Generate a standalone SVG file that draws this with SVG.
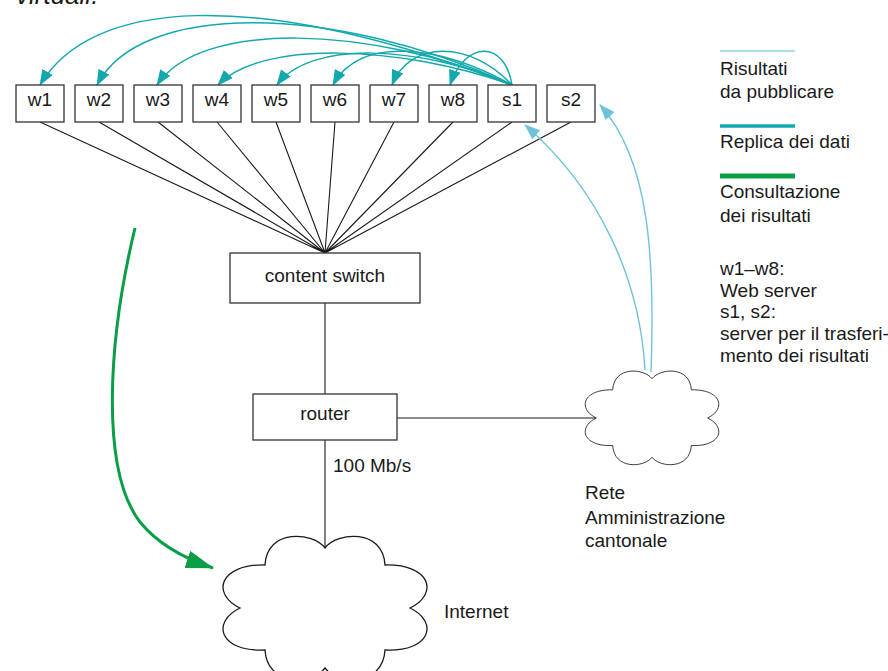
<svg xmlns="http://www.w3.org/2000/svg" width="888" height="671" viewBox="0 0 888 671">
  <style>
    text { font-family: "Liberation Sans", Arial, sans-serif; font-size: 19px; fill: #1a1a1a; }
    .mid { text-anchor: middle; }
    .box { fill: #ffffff; stroke: #333333; stroke-width: 1.3; }
    .link { stroke: #1a1a1a; stroke-width: 1.1; fill: none; }
    .cloud { fill: #ffffff; stroke: #1a1a1a; stroke-width: 1.3; vector-effect: non-scaling-stroke; }
    .replica { stroke: #12A8AC; stroke-width: 1.5; fill: none; marker-end: url(#arrowTeal); }
    .results { stroke: #6EC3DA; stroke-width: 1.4; fill: none; marker-end: url(#arrowBlue); }
    .consult { stroke: #0A9E48; stroke-width: 3; fill: none; marker-end: url(#arrowGreen); }
  </style>
  <defs>
    <marker id="arrowTeal" viewBox="0 0 16 12" refX="15" refY="6" markerWidth="16" markerHeight="12" markerUnits="userSpaceOnUse" orient="auto">
      <path d="M0,0 L16,6 L0,12 Z" fill="#12A8AC"/>
    </marker>
    <marker id="arrowBlue" viewBox="0 0 16 12" refX="15" refY="6" markerWidth="16" markerHeight="12" markerUnits="userSpaceOnUse" orient="auto">
      <path d="M0,0 L16,6 L0,12 Z" fill="#6EC3DA"/>
    </marker>
    <marker id="arrowGreen" viewBox="0 0 28 18" refX="27" refY="9" markerWidth="28" markerHeight="18" markerUnits="userSpaceOnUse" orient="auto">
      <path d="M0,0 L28,9 L0,18 Z" fill="#0A9E48"/>
    </marker>
    <!-- eight-lobed cloud centred on the origin -->
    <path id="cloudShape" d="M0,-60 C12,-76 58,-80 60,-43 C106,-44 114,-14 85,0 C114,14 106,44 60,42 C58,79 12,76 0,60 C-12,76 -58,79 -60,42 C-106,44 -114,14 -85,0 C-114,-14 -106,-44 -60,-43 C-58,-80 -12,-76 0,-60 Z"/>
  </defs>

  <rect width="888" height="671" fill="#ffffff"/>

  <text x="16" y="4" style="font-style: italic; font-size: 26px;">virtuali.</text>

  <!-- wiring -->
  <g id="connectors">
    <path class="link" d="M40,122 L325,253 M99,122 L325,253 M158,122 L325,253 M217,122 L325,253 M276,122 L325,253 M335,122 L325,253 M394,122 L325,253 M453,122 L325,253 M512,122 L325,253 M571,122 L325,253"/>
    <path class="link" d="M325,303 L325,394"/>
    <path class="link" d="M325,440 L325,548"/>
    <path class="link" d="M397,418 L596,418"/>

    <!-- data replication from s1 to the web servers -->
    <path class="replica" d="M512,85 C250,-15 90,0 40,85"/>
    <path class="replica" d="M512,85 C330,2 140,2 97,85"/>
    <path class="replica" d="M512,85 C370,25 200,20 157,85"/>
    <path class="replica" d="M512,85 C400,45 260,40 218,85"/>
    <path class="replica" d="M512,85 C420,45 310,40 277,85"/>
    <path class="replica" d="M512,85 C440,45 360,35 333,85"/>
    <path class="replica" d="M512,85 C470,40 410,40 392,85"/>
    <path class="replica" d="M512,85 C505,40 465,40 450,85"/>

    <!-- results arriving from the cantonal network -->
    <path class="results" d="M645,370 C640,280 600,190 525,125"/>
    <path class="results" d="M651,372 C655,260 650,160 600,105"/>

    <!-- consultation from the internet -->
    <path class="consult" d="M135,228 C108,340 100,470 140,522 C157,543 180,557 213,568"/>
  </g>

  <g id="w1"><rect class="box" x="16" y="85" width="48" height="37"/><text class="mid" x="40" y="106">w1</text></g>
  <g id="w2"><rect class="box" x="75" y="85" width="48" height="37"/><text class="mid" x="99" y="106">w2</text></g>
  <g id="w3"><rect class="box" x="134" y="85" width="48" height="37"/><text class="mid" x="158" y="106">w3</text></g>
  <g id="w4"><rect class="box" x="193" y="85" width="48" height="37"/><text class="mid" x="217" y="106">w4</text></g>
  <g id="w5"><rect class="box" x="252" y="85" width="48" height="37"/><text class="mid" x="276" y="106">w5</text></g>
  <g id="w6"><rect class="box" x="311" y="85" width="48" height="37"/><text class="mid" x="335" y="106">w6</text></g>
  <g id="w7"><rect class="box" x="370" y="85" width="48" height="37"/><text class="mid" x="394" y="106">w7</text></g>
  <g id="w8"><rect class="box" x="429" y="85" width="48" height="37"/><text class="mid" x="453" y="106">w8</text></g>
  <g id="s1"><rect class="box" x="488" y="85" width="48" height="37"/><text class="mid" x="512" y="106">s1</text></g>
  <g id="s2"><rect class="box" x="547" y="85" width="48" height="37"/><text class="mid" x="571" y="106">s2</text></g>

  <g id="content-switch">
    <rect class="box" x="230" y="253" width="190" height="50"/>
    <text class="mid" x="325" y="282">content switch</text>
  </g>

  <g id="router">
    <rect class="box" x="253" y="394" width="144" height="46"/>
    <text class="mid" x="325" y="420">router</text>
  </g>

  <g id="rete-cantonale">
    <use href="#cloudShape" class="cloud" transform="translate(652,418) scale(0.655)"/>
    <text x="585" y="499">Rete</text>
    <text x="585" y="524">Amministrazione</text>
    <text x="585" y="547">cantonale</text>
  </g>

  <g id="internet">
    <use href="#cloudShape" class="cloud" transform="translate(325,608)"/>
    <text x="444" y="618">Internet</text>
  </g>

  <text x="333" y="472">100 Mb/s</text>

  <!-- legend -->
  <g id="legend">
    <line x1="720" y1="51" x2="795" y2="51" stroke="#8FD3E6" stroke-width="1.6"/>
    <text x="720" y="75">Risultati</text>
    <text x="720" y="98">da pubblicare</text>
    <line x1="720" y1="126" x2="795" y2="126" stroke="#12A8AC" stroke-width="3.4"/>
    <text x="720" y="148">Replica dei dati</text>
    <line x1="720" y1="176" x2="795" y2="176" stroke="#0A9E48" stroke-width="5"/>
    <text x="720" y="198">Consultazione</text>
    <text x="720" y="222">dei risultati</text>
    <text x="720" y="275">w1–w8:</text>
    <text x="720" y="297">Web server</text>
    <text x="720" y="318">s1, s2:</text>
    <text x="720" y="340">server per il trasferi-</text>
    <text x="720" y="362">mento dei risultati</text>
  </g>
</svg>
